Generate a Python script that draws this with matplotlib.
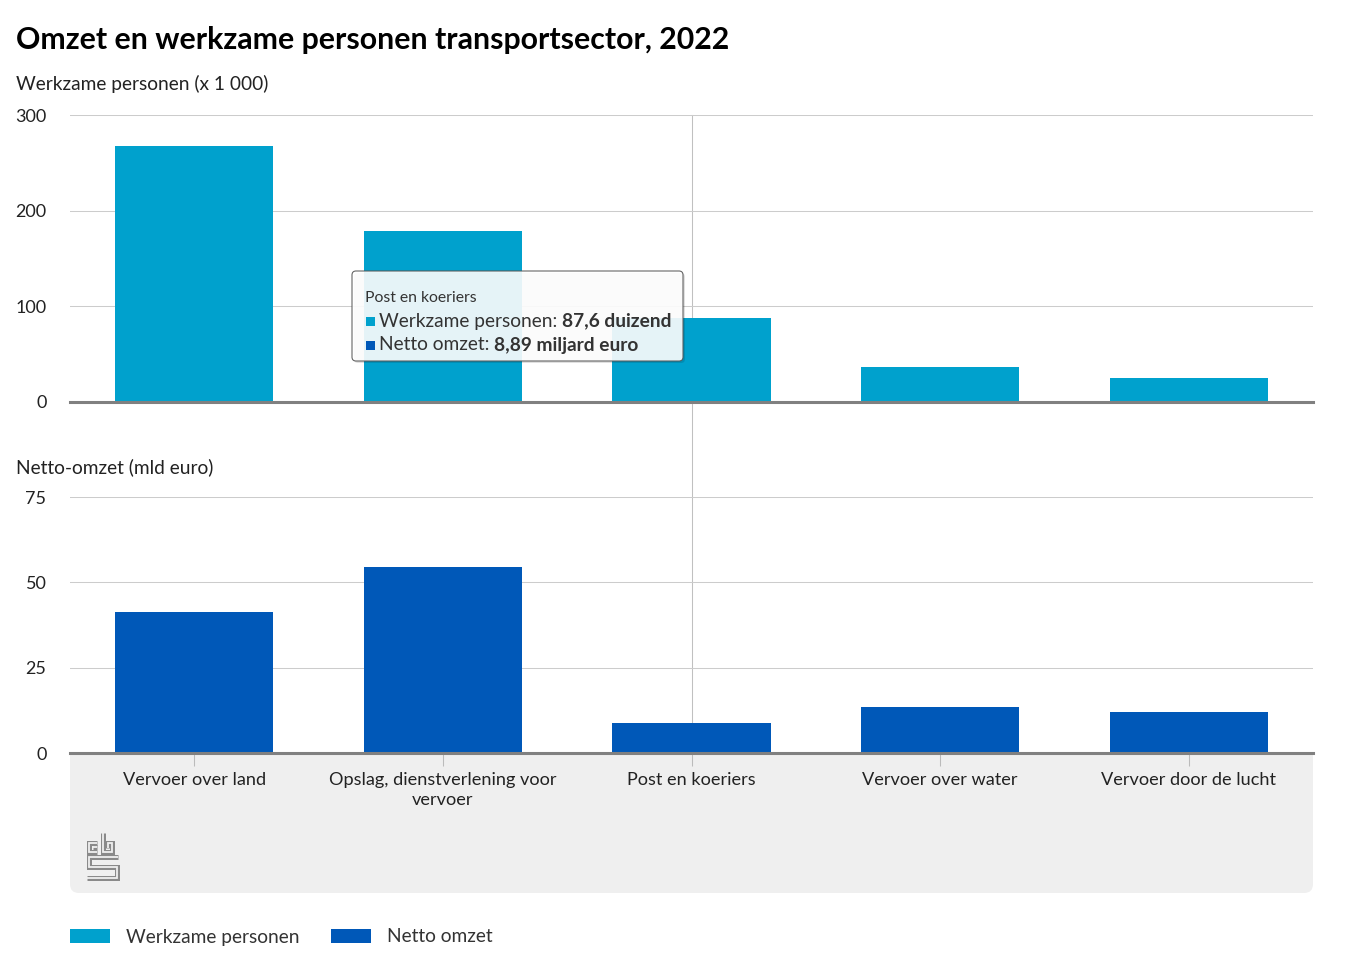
import matplotlib
matplotlib.use('Agg')
import matplotlib.pyplot as plt
from matplotlib.patches import Rectangle, FancyBboxPatch
from matplotlib.lines import Line2D
from matplotlib.transforms import IdentityTransform
import matplotlib.patheffects as pe

# data
categories = ['Vervoer over land', 'Opslag, dienstverlening voor\nvervoer',
              'Post en koeriers', 'Vervoer over water', 'Vervoer door de lucht']
werkzame = [268, 179, 87.6, 36.6, 25.1]
omzet = [41.2, 54.4, 8.89, 13.6, 12.1]
top_ticks = [0, 100, 200, 300]
bottom_ticks = [0, 25, 50, 75]

light_blue = '#00a1cd'
dark_blue = '#0058b8'
txt = '#222222'

plt.rcParams['font.family'] = ['Lato', 'DejaVu Sans']

W, H = 1346, 975
fig = plt.figure(figsize=(W / 100, H / 100), dpi=100)
pix = IdentityTransform()


def fy(y):
    # pixel from top -> display y
    return H - y


ax1 = fig.add_axes([70 / W, 1 - 402 / H, 1243 / W, 287 / H])
ax2 = fig.add_axes([70 / W, 1 - 753 / H, 1243 / W, 256 / H])
x = range(len(categories))

for ax, vals, col, ticks in [(ax1, werkzame, light_blue, top_ticks),
                             (ax2, omzet, dark_blue, bottom_ticks)]:
    ax.bar(x, vals, width=0.636, color=col, zorder=3)
    ax.set_xlim(-0.5, 4.5)
    ax.set_ylim(0, ticks[-1])
    ax.set_yticks(ticks)
    ax.set_yticklabels([str(t) for t in ticks])
    ax.grid(axis='y', color='#cccccc', lw=0.75, zorder=0)
    for s in ['top', 'left', 'right']:
        ax.spines[s].set_visible(False)
    ax.spines['bottom'].set_color('#808080')
    ax.spines['bottom'].set_linewidth(2.2)
    ax.spines['bottom'].set_zorder(4)
    ax.tick_params(axis='y', length=0, pad=17, labelsize=13, labelcolor=txt)
    ax.axvline(2, color='#c0c0c0', lw=0.75, zorder=1)

ax1.set_xticks([])
ax2.set_xticks(list(x))
ax2.set_xticklabels(categories, fontsize=13.1, color=txt, linespacing=1.3)
ax2.tick_params(axis='x', direction='out', length=9, width=0.75, color='#bbbbbb', pad=5)

# crosshair between the panels
fig.add_artist(Line2D([692, 692], [fy(115), fy(752)], transform=pix,
                      color='#c0c0c0', lw=0.75, zorder=-0.5))

# grey area below the axis
fig.add_artist(FancyBboxPatch((70, fy(893)), 1243, 893 - 745, transform=pix,
                              boxstyle='round,pad=0,rounding_size=9',
                              facecolor='#efefef', edgecolor='none', zorder=-1))

# cbs logo
logo_paths = [
    [(97, 842.5), (88.5, 842.5), (88.5, 852), (97, 852)],
    [(97, 847), (93, 847)],
    [(103, 832.5), (103, 852), (112, 852), (112, 842.5), (107.5, 842.5), (107.5, 848)],
    [(117.5, 856.5), (88.5, 856.5), (88.5, 867), (116.5, 867), (116.5, 877.5), (87, 877.5)],
]
for p in logo_paths:
    xs = [a for a, b in p]
    ys = [fy(b) for a, b in p]
    fig.add_artist(Line2D(xs, ys, transform=pix, color='#efefef', lw=1.3,
                          solid_joinstyle='miter', solid_capstyle='butt',
                          path_effects=[pe.Stroke(linewidth=3.6, foreground='#8a8a8a'), pe.Normal()],
                          zorder=2))

# titles
fig.text(16 / W, 1 - 40 / H, 'Omzet en werkzame personen transportsector, 2022',
         fontsize=21.8, fontweight='bold', color='#000000', va='center', ha='left')
fig.text(16 / W, 1 - 84 / H, 'Werkzame personen (x 1 000)', fontsize=13.8, color=txt,
         va='center', ha='left')
fig.text(16 / W, 1 - 467 / H, 'Netto-omzet (mld euro)', fontsize=13.8, color=txt,
         va='center', ha='left')

# tooltip
fig.add_artist(FancyBboxPatch((354, fy(363)), 331, 90, transform=pix,
                              boxstyle='round,pad=0,rounding_size=4',
                              facecolor='#000000', alpha=0.12, edgecolor='none', zorder=9))
fig.add_artist(FancyBboxPatch((352, fy(361)), 331, 90, transform=pix,
                              boxstyle='round,pad=0,rounding_size=4',
                              facecolor='white', alpha=0.9, edgecolor='#555555', lw=0.8, zorder=10))
fig.text(365, fy(298), 'Post en koeriers', transform=pix, fontsize=11.3, color='#333333',
         va='center', ha='left', zorder=11)

renderer = fig.canvas.get_renderer()
rows = [(321, light_blue, 'Werkzame personen: ', '87,6 duizend'),
        (345, dark_blue, 'Netto omzet: ', '8,89 miljard euro')]
for yy, col, lab, val in rows:
    fig.add_artist(Rectangle((366, fy(yy + 5)), 9, 9, transform=pix, facecolor=col,
                             edgecolor='none', zorder=11))
    t = fig.text(379, fy(yy), lab, transform=pix, fontsize=13.8, color='#333333',
                 va='center', ha='left', zorder=11)
    bb = t.get_window_extent(renderer)
    fig.text(bb.x1, fy(yy), val, transform=pix, fontsize=13.8, fontweight='bold',
             color='#333333', va='center', ha='left', zorder=11)

# legend
for x0, col, lab in [(70, light_blue, 'Werkzame personen'), (331, dark_blue, 'Netto omzet')]:
    fig.add_artist(Rectangle((x0, fy(943)), 40, 14, transform=pix, facecolor=col,
                             edgecolor='none'))
    fig.text(x0 + 56, fy(937), lab, transform=pix, fontsize=13.8, color='#333333',
             va='center', ha='left')

fig.savefig('out.png', dpi=100)
